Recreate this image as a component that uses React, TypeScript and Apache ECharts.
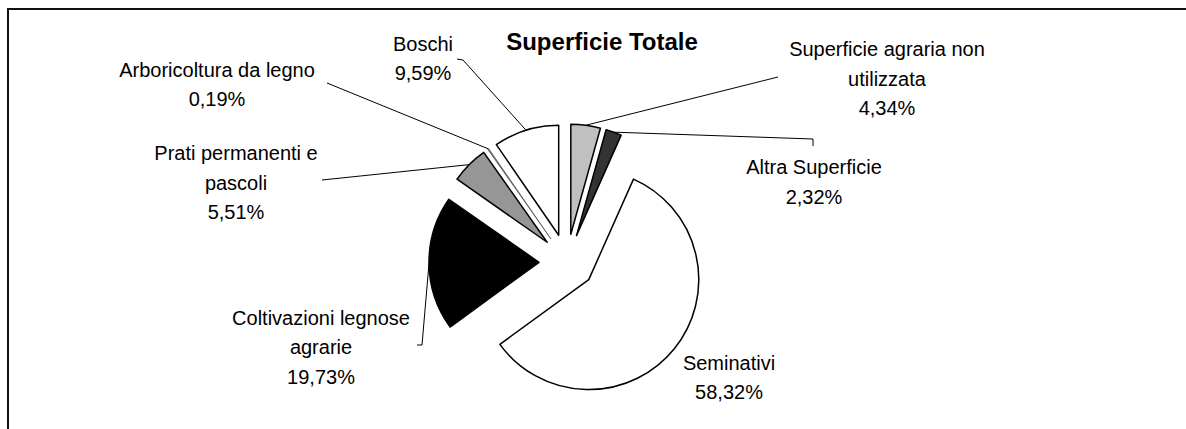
import React, { useEffect, useRef } from "react";
import * as echarts from "echarts";

// ---- data ----
const categories = [
  "Superficie agraria non utilizzata",
  "Altra Superficie",
  "Seminativi",
  "Coltivazioni legnose agrarie",
  "Prati permanenti e pascoli",
  "Arboricoltura da legno",
  "Boschi",
];
const labelNames = [
  "Superficie agraria non\nutilizzata",
  "Altra Superficie",
  "Seminativi",
  "Coltivazioni legnose\nagrarie",
  "Prati permanenti e\npascoli",
  "Arboricoltura da legno",
  "Boschi",
];
const values = [4.34, 2.32, 58.32, 19.73, 5.51, 0.19, 9.59];
const sliceColors = ["#c0c0c0", "#333333", "#ffffff", "#000000", "#969696", "#808080", "#ffffff"];
const title = "Superficie Totale";

// ---- layout (positions / styles) ----
const CENTER = [567, 262];
const RADIUS = 110;
const OFFSET = 28;
const labelPos: number[][] = [
  [887, 78.5],
  [814, 182],
  [729, 377.5],
  [321, 347],
  [236, 182.5],
  [217, 84.5],
  [423, 58.5],
];
const leaderEnds: (number[][] | null)[] = [
  [[778, 77]],
  [[813, 139], [813, 146]],
  null,
  [[422, 345], [417, 345]],
  [[322, 180]],
  [[327, 83]],
  [[463, 60], [457, 59]],
];
const FONT = "'Liberation Sans', Arial, sans-serif";

const fmt = (v: number) => v.toFixed(2).replace(".", ",") + "%";

export default function App() {
  const ref = useRef<HTMLDivElement>(null);
  useEffect(() => {
    if (!ref.current) return;
    const chart = echarts.init(ref.current, null, { renderer: "svg" });
    const total = values.reduce((a, b) => a + b, 0);
    let acc = 0;
    const graphics: any[] = [];
    graphics.push({
      type: "rect",
      shape: { x: 8, y: 9, width: 1200, height: 440 },
      style: { fill: "none", stroke: "#111", lineWidth: 2 },
      silent: true,
    });
    graphics.push({
      type: "text",
      x: 602,
      y: 41,
      style: {
        text: title,
        font: `bold 24px ${FONT}`,
        fill: "#000",
        align: "center",
        verticalAlign: "middle",
      },
    });
    values.forEach((v, i) => {
      const mid = ((acc + v / 2) / total) * Math.PI * 2;
      acc += v;
      const [lx, ly] = labelPos[i];
      graphics.push({
        type: "text",
        x: lx,
        y: ly,
        style: {
          text: labelNames[i] + "\n" + fmt(v),
          font: `20px ${FONT}`,
          lineHeight: 29.5,
          fill: "#000",
          align: "center",
          verticalAlign: "middle",
        },
      });
      const ends = leaderEnds[i];
      if (ends) {
        const d = RADIUS + OFFSET;
        const sx = CENTER[0] + d * Math.sin(mid);
        const sy = CENTER[1] - d * Math.cos(mid);
        graphics.push({
          type: "polyline",
          shape: { points: [[sx, sy], ...ends] },
          style: { stroke: "#000", lineWidth: 1, fill: "none" },
          silent: true,
        });
      }
    });

    chart.setOption({
      animation: false,
      backgroundColor: "#ffffff",
      series: [
        {
          type: "pie",
          center: CENTER,
          radius: RADIUS,
          startAngle: 90,
          clockwise: true,
          selectedMode: "multiple",
          selectedOffset: OFFSET,
          silent: true,
          label: { show: false },
          labelLine: { show: false },
          emphasis: { disabled: true },
          data: values.map((v, i) => {
            const bw = v < 1 ? 0.4 : 1.5;
            return {
              value: v,
              name: categories[i],
              selected: true,
              itemStyle: { color: sliceColors[i], borderColor: "#000", borderWidth: bw },
              select: { itemStyle: { color: sliceColors[i], borderColor: "#000", borderWidth: bw } },
            };
          }),
        },
      ],
      graphic: graphics,
    });
    return () => chart.dispose();
  }, []);
  return (
    <div
      ref={ref}
      style={{ position: "fixed", left: 0, top: 0, width: 1186, height: 429 }}
    />
  );
}
